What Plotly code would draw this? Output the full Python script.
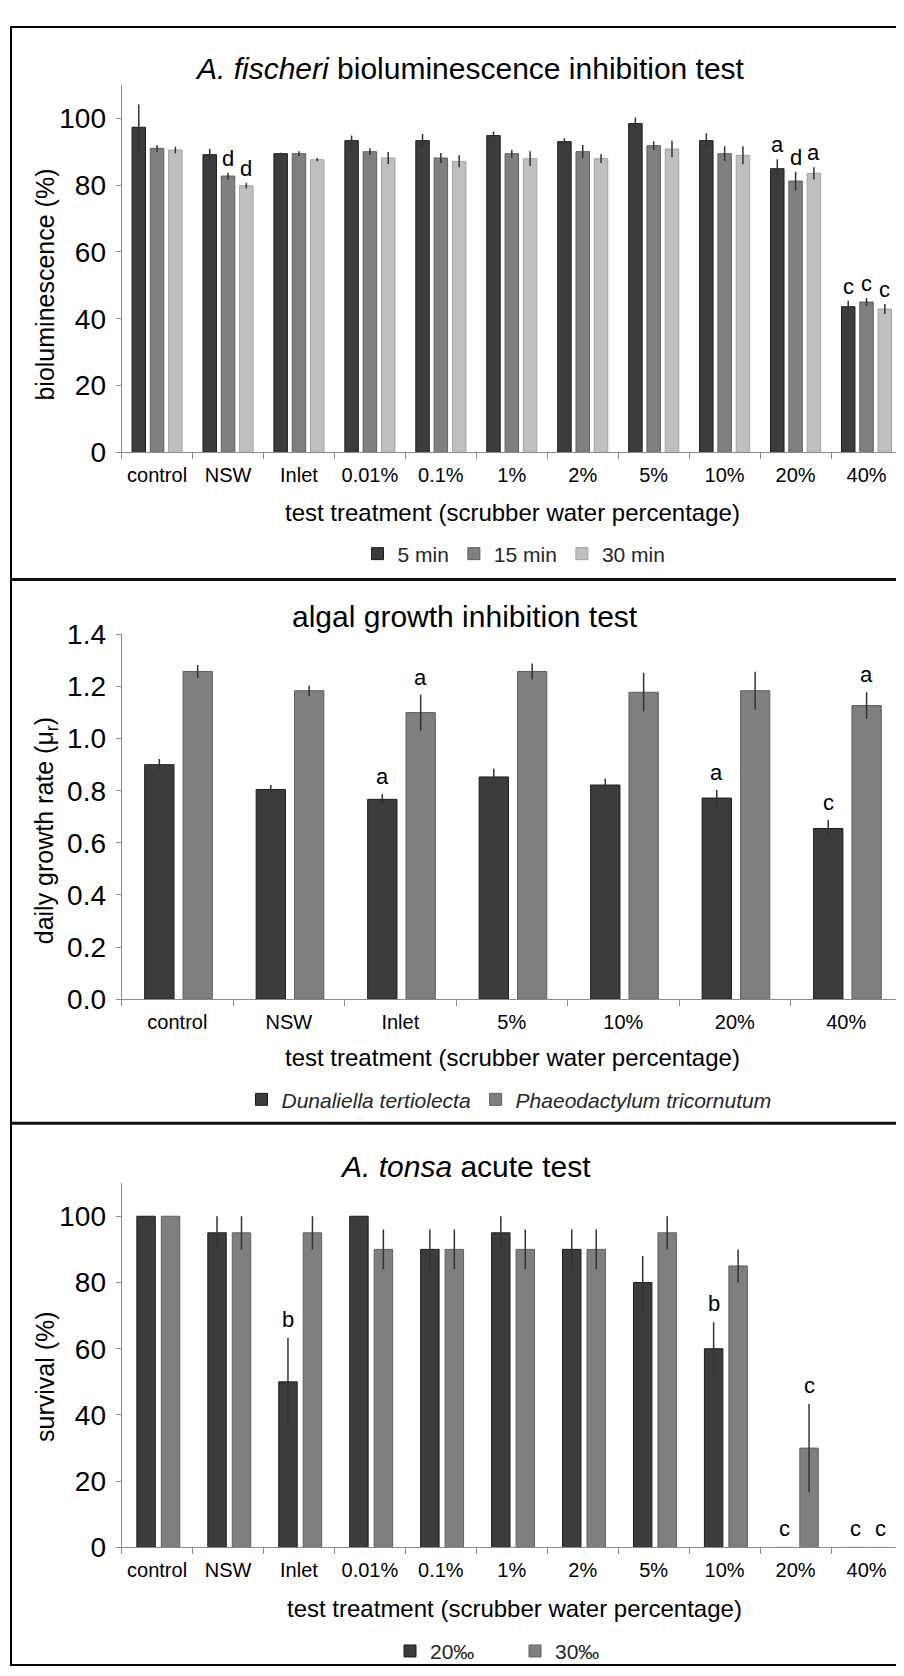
import plotly.graph_objects as go

W, H = 904, 1676
FONT = "Liberation Sans, Arial, Helvetica, sans-serif"

# ---------------- data ----------------
# Panel 1: A. fischeri bioluminescence inhibition test
cats_fischeri = ["control", "NSW", "Inlet", "0.01%", "0.1%", "1%", "2%", "5%", "10%", "20%", "40%"]
lum_5min = [97.3, 89.1, 89.4, 93.3, 93.3, 94.8, 93.0, 98.4, 93.3, 84.9, 43.6]
lum_5min_err = [6.8, 1.8, 0.3, 1.5, 2.0, 1.2, 1.0, 1.8, 2.2, 2.8, 1.8]
lum_15min = [91.0, 82.7, 89.4, 90.0, 88.1, 89.4, 90.0, 91.8, 89.4, 81.2, 45.0]
lum_15min_err = [1.0, 1.0, 0.7, 1.0, 1.5, 1.2, 2.0, 1.3, 2.2, 2.8, 1.2]
lum_30min = [90.5, 79.8, 87.6, 88.1, 87.1, 87.9, 87.9, 90.8, 88.9, 83.5, 42.9]
lum_30min_err = [1.0, 0.8, 0.5, 1.8, 1.8, 2.2, 1.3, 2.5, 2.7, 1.8, 1.5]
lum_5min_sig = ["", "", "", "", "", "", "", "", "", "a", "c"]
lum_15min_sig = ["", "d", "", "", "", "", "", "", "", "d", "c"]
lum_30min_sig = ["", "d", "", "", "", "", "", "", "", "a", "c"]

# Panel 2: algal growth inhibition test
cats_algae = ["control", "NSW", "Inlet", "5%", "10%", "20%", "40%"]
dunaliella = [0.900, 0.805, 0.767, 0.853, 0.822, 0.772, 0.655]
dunaliella_err = [0.022, 0.017, 0.020, 0.031, 0.024, 0.031, 0.033]
phaeodactylum = [1.258, 1.184, 1.100, 1.258, 1.178, 1.184, 1.127]
phaeodactylum_err = [0.025, 0.020, 0.069, 0.031, 0.074, 0.073, 0.051]
dunaliella_sig = ["", "", "a", "", "", "a", "c"]
phaeodactylum_sig = ["", "", "a", "", "", "", "a"]

# Panel 3: A. tonsa acute test
cats_tonsa = ["control", "NSW", "Inlet", "0.01%", "0.1%", "1%", "2%", "5%", "10%", "20%", "40%"]
surv_20 = [100, 95, 50, 100, 90, 95, 90, 80, 60, 0, 0]
surv_20_err = [0, 5, 13.3, 0, 6, 5, 6, 8, 8, 0, 0]
surv_30 = [100, 95, 95, 90, 90, 90, 90, 95, 85, 30, 0]
surv_30_err = [0, 5, 5, 6, 6, 6, 6, 5, 5, 13.3, 0]
surv_20_sig = ["", "", "b", "", "", "", "", "", "b", "c", "c"]
surv_30_sig = ["", "", "", "", "", "", "", "", "", "c", "c"]

# ---------------- geometry helpers ----------------
def fx(p):
    return p / W


def fy(p):
    return 1 - p / H


X0, X1 = 113.6, 894.0
P1 = (63.0, 437.5)
P2 = (623.0, 994.5)
P3 = (1182.0, 1553.2)

DARK, DARK_LINE = "#3c3c3c", "#1c1c1c"
MID, MID_LINE = "#7f7f7f", "#5f5f5f"
LIGHT, LIGHT_LINE = "#bfbfbf", "#a2a2a2"
AXIS = "#8a8a8a"

fig = go.Figure()
annotations = []


def add_series(cats, vals, errs, sig, name, color, lcolor, offset, width, xa, ya, legend, sig_shift):
    fig.add_trace(go.Bar(
        x=cats, y=vals, name=name, xaxis=xa, yaxis=ya,
        offset=offset, width=width, legend=legend,
        marker=dict(color=color, line=dict(color=lcolor, width=1)),
        error_y=dict(type="data", array=errs, visible=True, color="#333333",
                     thickness=1.5, width=0),
    ))
    cw = (X1 - X0) / len(cats)
    xs = (offset + width / 2) * cw
    for c, v, e, s in zip(cats, vals, errs, sig):
        if s:
            annotations.append(dict(
                x=c, y=v + e, xref=xa, yref=ya, text=s, showarrow=False,
                xshift=xs, yshift=sig_shift, yanchor="bottom", xanchor="center",
                font=dict(size=22, color="#000000", family=FONT)))


# Panel 1
w1 = 0.19
add_series(cats_fischeri, lum_5min, lum_5min_err, lum_5min_sig, "5 min", DARK, DARK_LINE,
           -0.353, w1, "x", "y", "legend", 0)
add_series(cats_fischeri, lum_15min, lum_15min_err, lum_15min_sig, "15 min", MID, MID_LINE,
           -0.095, w1, "x", "y", "legend", 0)
add_series(cats_fischeri, lum_30min, lum_30min_err, lum_30min_sig, "30 min", LIGHT, LIGHT_LINE,
           0.163, w1, "x", "y", "legend", 0)

# Panel 2
w2 = 0.263
add_series(cats_algae, dunaliella, dunaliella_err, dunaliella_sig, "<i>Dunaliella tertiolecta</i>",
           DARK, DARK_LINE, -0.293, w2, "x2", "y2", "legend2", 3)
add_series(cats_algae, phaeodactylum, phaeodactylum_err, phaeodactylum_sig,
           "<i>Phaeodactylum tricornutum</i>", MID, MID_LINE, 0.051, w2, "x2", "y2", "legend2", 3)

# Panel 3
w3 = 0.26
add_series(cats_tonsa, surv_20, surv_20_err, surv_20_sig, "20‰", DARK, DARK_LINE,
           -0.285, w3, "x3", "y3", "legend3", 4)
add_series(cats_tonsa, surv_30, surv_30_err, surv_30_sig, "30‰", MID, MID_LINE,
           0.06, w3, "x3", "y3", "legend3", 4)


def xaxis_cfg(n, anchor):
    return dict(
        domain=[fx(X0), fx(X1)], anchor=anchor, type="category",
        range=[-0.5, n - 0.5], showline=True, linecolor=AXIS, linewidth=1,
        ticks="outside", tickson="boundaries", ticklen=6, tickcolor=AXIS, tickwidth=1,
        ticklabelstandoff=5, showgrid=False, zeroline=False, tickangle=0,
        tickfont=dict(size=20, color="#000000", family=FONT), fixedrange=True)


def yaxis_cfg(top, bottom, rng, dtick, anchor, fmt=None):
    d = dict(
        domain=[fy(bottom), fy(top)], anchor=anchor, range=rng, dtick=dtick, tick0=0,
        showline=True, linecolor=AXIS, linewidth=1, ticks="outside", ticklen=5,
        tickcolor=AXIS, tickwidth=1, showgrid=False, zeroline=False, ticklabelstandoff=4,
        tickfont=dict(size=28, color="#000000", family=FONT), fixedrange=True)
    if fmt:
        d["tickformat"] = fmt
    return d


def txt(x, y, s, size, angle=0, color="#000000"):
    annotations.append(dict(x=fx(x), y=fy(y), xref="paper", yref="paper", text=s,
                            showarrow=False, xanchor="center", yanchor="middle",
                            textangle=angle, font=dict(size=size, color=color, family=FONT)))


txt(462, 46, "<i>A. fischeri</i> bioluminescence inhibition test", 30)
txt(457, 605, "algal growth inhibition test", 30)
txt(458, 1165, "<i>A. tonsa</i> acute test", 30)
xt = "test treatment (scrubber water percentage)"
txt(504, 499, xt, 24)
txt(504, 1054, xt, 24)
txt(507, 1615, xt, 24)
txt(37.5, 267, "bioluminescence (%)", 25, -90)
txt(37.5, 823, "daily growth rate (μ<sub>r</sub>)", 25, -90)
txt(37.5, 1379, "survival (%)", 25, -90)

legend_common = dict(orientation="h", xanchor="center", yanchor="middle",
                     bgcolor="rgba(0,0,0,0)", font=dict(size=21, color="#262626", family=FONT),
                     itemwidth=30, traceorder="normal")

shapes = [
    dict(type="rect", xref="paper", yref="paper", x0=fx(3), x1=fx(901), y0=fy(1673), y1=fy(4),
         line=dict(color="#000000", width=2)),
    dict(type="line", xref="paper", yref="paper", x0=fx(3), x1=fx(901), y0=fy(567), y1=fy(567),
         line=dict(color="#111111", width=3)),
    dict(type="line", xref="paper", yref="paper", x0=fx(3), x1=fx(901), y0=fy(1121), y1=fy(1121),
         line=dict(color="#111111", width=3)),
]

fig.update_layout(
    width=W, height=H, margin=dict(l=0, r=0, t=0, b=0),
    paper_bgcolor="white", plot_bgcolor="white",
    font=dict(family=FONT, color="#000000"),
    barmode="group",
    xaxis=xaxis_cfg(len(cats_fischeri), "y"),
    yaxis=yaxis_cfg(P1[0], P1[1], [0, 110], 20, "x"),
    xaxis2=xaxis_cfg(len(cats_algae), "y2"),
    yaxis2=yaxis_cfg(P2[0], P2[1], [0, 1.4], 0.2, "x2", ".1f"),
    xaxis3=xaxis_cfg(len(cats_tonsa), "y3"),
    yaxis3=yaxis_cfg(P3[0], P3[1], [0, 110], 20, "x3"),
    legend=dict(x=fx(506), y=fy(541), **legend_common),
    legend2=dict(x=fx(501), y=fy(1097), **legend_common),
    legend3=dict(x=fx(507), y=fy(1659), entrywidth=80, **legend_common),
    annotations=annotations,
    shapes=shapes,
)

fig.write_html("out.html")
